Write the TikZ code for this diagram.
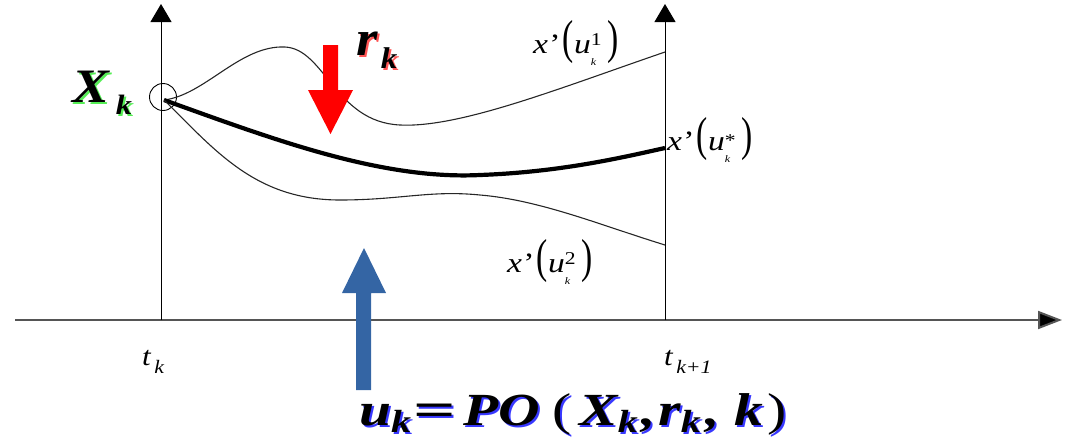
\documentclass[tikz,border=0pt]{standalone}
\usepackage{fontspec}
\setmainfont{Liberation Serif}
\usepackage{graphicx}
\usetikzlibrary{arrows.meta}
\definecolor{redarrow}{HTML}{FF0000}
\definecolor{bluearrow}{HTML}{3465A4}
\definecolor{axisgray}{HTML}{555555}
\definecolor{glowgreen}{HTML}{55EE55}
\definecolor{glowred}{HTML}{FF5555}
\definecolor{glowblue}{HTML}{3838FF}
\newcommand\fs[1]{\fontsize{#1}{#1}\selectfont}
\newcommand\glowtxt[2]{\makebox[0pt][l]{\kern2pt\raisebox{-2pt}{\color{#1}#2}}#2}
\newcommand\xu[2]{\scalebox{1.2}[1]{\fs{28}\textit{x}\kern1pt’\kern2pt\scalebox{1}[1.7]{(}\textit{u}\rlap{\raisebox{#2}{\fs{18}#1}}\raisebox{-12pt}{\fs{10}\textit{k}}\kern9pt\scalebox{1}[1.7]{)}}}
\newcommand\sk{\raisebox{-7pt}{\fs{32}k}}
\begin{document}
\begin{tikzpicture}[x=1pt,y=-1pt,
  axis/.style={line width=1pt,-{Triangle[length=18pt,width=21pt]}},
  haxis/.style={line width=2pt,axisgray,-{Triangle[length=24pt,width=18pt,fill=black]}},
  thin curve/.style={line width=1.1pt,black!85},
  thick curve/.style={line width=4.2pt,black},
  lbl/.style={anchor=base west,inner sep=0pt}]
\useasboundingbox (0,0) rectangle (1065,440);
% axes
\coordinate (hs) at (15,320);
\coordinate (he) at (1062,320);
\coordinate (a1b) at (161,320);
\coordinate (a1t) at (161,4);
\coordinate (a2b) at (665,320);
\coordinate (a2t) at (665,4);
\draw[haxis] (hs) -- (he);
\draw[axis] (a1b) -- (a1t);
\draw[axis] (a2b) -- (a2t);
% start circle
\node[circle,draw,line width=0.9pt,minimum size=27pt,inner sep=0pt] (c0) at (163,97) {};
\coordinate (s) at (164,100);
\coordinate (e1) at (665,52);
\coordinate (es) at (665,148);
\coordinate (e2) at (665,245);
% curves
\draw[thin curve] (s) .. controls (205,95) and (240,45) .. (285,47)
  .. controls (325,49) and (335,122) .. (400,125)
  .. controls (460,128) and (560,88) .. (e1);
\draw[thick curve] (s) .. controls (270,138) and (380,180) .. (480,175)
  .. controls (560,172) and (620,158) .. (es);
\draw[thin curve] (s) .. controls (215,150) and (255,200) .. (340,200)
  .. controls (400,200) and (430,190) .. (480,195)
  .. controls (540,200) and (600,225) .. (e2);
% arrows
\fill[redarrow] (323,45) -- (338,45) -- (338,90) -- (353,90) -- (330.5,134) -- (308,90) -- (323,90) -- cycle;
\fill[bluearrow] (356,390) -- (371,390) -- (371,293) -- (386,293) -- (364,248) -- (342,293) -- (356,293) -- cycle;
% labels
\node[lbl] (l1) at (533,53) {\xu{1}{8pt}};
\node[lbl] (ls) at (667,150) {\xu{*}{4pt}};
\node[lbl] (l2) at (507,272) {\xu{2}{8pt}};
\node[lbl] (xk) at (72,102) {\glowtxt{glowgreen}{\scalebox{1.15}[1]{\fs{48}\bfseries\itshape X\kern6pt\raisebox{-12pt}{\fs{28}k}}}};
\node[lbl] (rk) at (356,55) {\glowtxt{glowred}{\scalebox{1.1}[1]{\fs{50}\bfseries\itshape r\kern3pt\raisebox{-13pt}{\fs{30}k}}}};
\node[lbl] (tk) at (142,365) {\scalebox{1.15}[1]{\fs{27}\itshape t\kern3pt\raisebox{-8pt}{\fs{19}k}}};
\node[lbl] (tk1) at (664,365) {\scalebox{1.15}[1]{\fs{27}\itshape t\kern3pt\raisebox{-8pt}{\fs{19}k+1}}};
\node[lbl] (pol) at (359,425) {\glowtxt{glowblue}{\scalebox{1.25}[1]{\fs{46}\bfseries\itshape u\sk\kern2pt{\upshape\scalebox{1.3}[1]{=}}\kern6pt PO\kern10pt{\mdseries\upshape(}\kern6pt X\sk\kern3pt,\kern2pt r\sk\kern4pt,\kern11pt k\kern4pt{\mdseries\upshape)}}}};
\end{tikzpicture}
\end{document}
